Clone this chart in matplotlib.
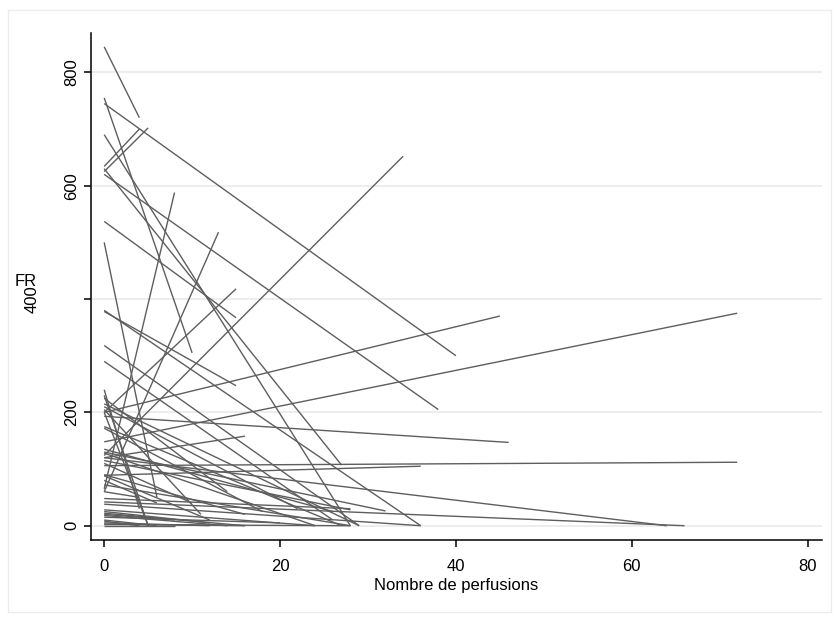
import matplotlib
matplotlib.use("Agg")
import matplotlib.pyplot as plt
import matplotlib.transforms as mtransforms
from matplotlib.patches import Rectangle

plt.rcParams['font.family'] = ['Liberation Sans', 'DejaVu Sans']

# each patient: FR at first visit (x=0) and at the last infusion count
fr_start = [845, 755, 745, 690, 634, 625, 620, 630, 537, 500,
            378, 318, 290, 380,
            65, 60, 200, 124, 200, 148, 120, 106, 89, 193,
            240, 225, 215, 210, 205, 200, 175, 172, 135, 130,
            128, 120, 115, 110, 90, 88, 80, 72, 60, 48,
            42, 38, 28, 25, 22, 20, 18, 15, 10, 8,
            5, 3, 0, 2, 230]
n_perf = [4, 10, 40, 28, 4, 5, 38, 27, 15, 6,
          15, 29, 26, 36,
          8, 13, 15, 34, 45, 72, 16, 72, 36, 46,
          4, 14, 29, 22, 11, 5, 27, 18, 26, 32,
          24, 64, 28, 10, 16, 12, 6, 28, 4, 28,
          66, 36, 24, 12, 16, 8, 14, 20, 6, 4,
          12, 16, 8, 28, 5]
fr_end = [720, 305, 300, 0, 700, 702, 205, 107, 367, 50,
          247, 0, 10, 0,
          588, 518, 418, 652, 370, 375, 158, 112, 105, 147,
          30, 60, 0, 30, 20, 0, 0, 25, 25, 26,
          0, 0, 28, 40, 20, 10, 40, 0, 50, 30,
          0, 0, 0, 5, 0, 10, 0, 5, 0, 0,
          0, 0, 0, 0, 0]
y_ticks = [0, 200, 400, 600, 800]
x_ticks = [0, 20, 40, 60, 80]

fig = plt.figure(figsize=(8.35, 6.17), dpi=100)
fig.patches.append(Rectangle((0.010, 0.008), 0.985, 0.976, transform=fig.transFigure,
                             fill=False, edgecolor='#ececec', lw=1))
ax = fig.add_axes([0.109, 0.125, 0.875, 0.822])

for y0, x1, y1 in zip(fr_start, n_perf, fr_end):
    ax.plot([0, x1], [y0, y1], color='#5e5e5e', lw=1.0, solid_capstyle='butt')

ax.set_xlim(-1.5, 81.6)
ax.set_ylim(-25, 870)
ax.set_xticks(x_ticks)
ax.set_yticks(y_ticks)
# the 400 label sits out by the axis title, as in the original export
ax.set_yticklabels([str(v) if v != 400 else '' for v in y_ticks])
ax.yaxis.grid(True, color='#eaeaea', lw=1.2)
ax.set_axisbelow(True)
for s in ['top', 'right']:
    ax.spines[s].set_visible(False)
for s in ['left', 'bottom']:
    ax.spines[s].set_linewidth(1.1)
ax.tick_params(direction='out', length=5, width=1.1, labelsize=12)
ax.tick_params(axis='x', pad=9)
plt.setp(ax.get_yticklabels(), rotation=90, va='center')
ax.set_xlabel('Nombre de perfusions', fontsize=12, labelpad=3)

trans = mtransforms.blended_transform_factory(fig.transFigure, ax.transData)
ax.text(32 / 835, 400, '400', transform=trans, rotation=90, fontsize=12,
        ha='center', va='center')
fig.text(25.5 / 835, 1 - 281 / 617, 'FR', fontsize=12, ha='center', va='center')

fig.savefig('out.png', dpi=100, facecolor='white')
